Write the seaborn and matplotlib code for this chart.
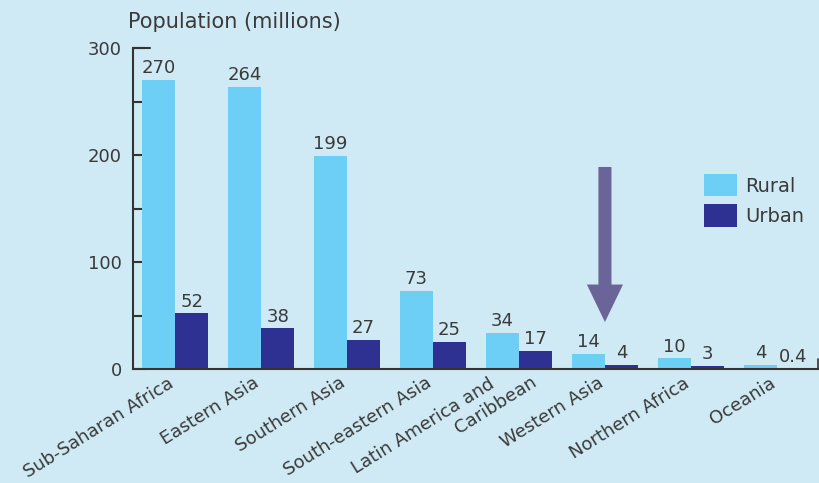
import matplotlib
matplotlib.use("Agg")
import matplotlib.pyplot as plt
import matplotlib.transforms as mtrans
import seaborn as sns
import pandas as pd

regions = ["Sub-Saharan Africa", "Eastern Asia", "Southern Asia", "South-eastern Asia",
           "Latin America and\nCaribbean", "Western Asia", "Northern Africa", "Oceania"]
rural = [270, 264, 199, 73, 34, 14, 10, 4]
urban = [52, 38, 27, 25, 17, 4, 3, 0.4]
rural_labels = ["270", "264", "199", "73", "34", "14", "10", "4"]
urban_labels = ["52", "38", "27", "25", "17", "4", "3", "0.4"]
series = ["Rural", "Urban"]
y_ticks = [0, 100, 200, 300]

bg = "#cfeaf4"
c_rural = "#6dcff6"
c_urban = "#2e3192"
txt = "#3a3a3a"

df = pd.DataFrame({
    "region": regions * 2,
    "value": rural + urban,
    "series": [series[0]] * len(regions) + [series[1]] * len(regions),
})

sns.set_theme(style="white")
plt.rcParams["font.family"] = ["DejaVu Sans"]
plt.rcParams["text.color"] = txt

fig = plt.figure(figsize=(8.19, 4.83), dpi=100, facecolor=bg)
ax = fig.add_axes([133 / 819, 1 - 369 / 483, (819 - 133) / 819, (369 - 48) / 483])
ax.set_facecolor(bg)

sns.barplot(data=df, x="region", y="value", hue="series", order=regions,
            hue_order=series, palette=[c_rural, c_urban], width=0.77, gap=0,
            saturation=1, ax=ax, edgecolor="none", linewidth=0)

for cont, labs in zip(ax.containers, [rural_labels, urban_labels]):
    ax.bar_label(cont, labels=labs, padding=2, fontsize=13, color=txt)

ax.set_xlim(-0.49, 7.49)
ax.set_ylim(0, 300)
ax.set_yticks(range(0, 301, 50))
ax.set_yticklabels([str(v) if v in y_ticks else "" for v in range(0, 301, 50)])
ax.tick_params(axis="y", direction="in", length=9, width=1.5, color="#333333",
               labelsize=13, labelcolor=txt, pad=8, left=True)
ax.tick_params(axis="x", length=0, pad=4)
ax.set_xticks(range(len(regions)))
ax.set_xticklabels([""] * len(regions))

rot = 32
lab_fs = 13


def put_label(i, s, dx, dy):
    tr = ax.get_xaxis_transform() + mtrans.ScaledTranslation(dx / 100, dy / 100, fig.dpi_scale_trans)
    ax.text(i, 0, s, transform=tr, rotation=rot, ha="right", va="top",
            rotation_mode="anchor", fontsize=lab_fs, color=txt)


for i, r in enumerate(regions):
    if "\n" in r:
        l1, l2 = r.split("\n")
        put_label(i, l1, -31, -6)
        put_label(i, l2, 11, -4)
    else:
        put_label(i, r, -8, -5)

ax.set_xlabel("")
ax.set_ylabel("")

for s in ["top", "right"]:
    ax.spines[s].set_visible(False)
for s in ["left", "bottom"]:
    ax.spines[s].set_color("#333333")
    ax.spines[s].set_linewidth(1.5)

# longer top bracket tick and right end tick
ax.plot([0, 17 / 684], [1, 1], transform=ax.transAxes, color="#333333", lw=1.5, clip_on=False)
ax.plot([0.998, 0.998], [0, 10 / 321], transform=ax.transAxes, color="#333333", lw=1.2, clip_on=False)

leg = ax.legend(loc="upper left", bbox_to_anchor=(569 / 684, (369 - 174) / 321), frameon=False,
                fontsize=14, handlelength=1.7, handleheight=1.4, labelspacing=0.4,
                handletextpad=0.45, borderaxespad=0, borderpad=0)
for t in leg.get_texts():
    t.set_color(txt)

ax.annotate("", xy=(5, 43.9), xytext=(5, 188.8), xycoords="data", textcoords="data",
            arrowprops=dict(arrowstyle="simple,head_length=27,head_width=26,tail_width=9.4",
                            mutation_scale=1, color="#6a6498", shrinkA=0, shrinkB=0, lw=0))

fig.text(128 / 819, 1 - 22 / 483, "Population (millions)", fontsize=15, color=txt,
         ha="left", va="center")

fig.savefig("out.png", dpi=100, facecolor=bg)
